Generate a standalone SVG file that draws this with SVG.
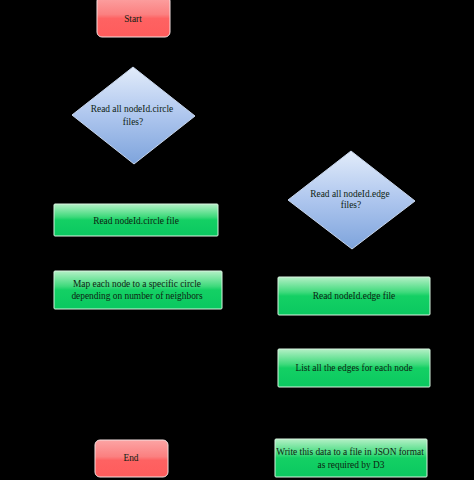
<svg xmlns="http://www.w3.org/2000/svg" width="474" height="480" viewBox="0 0 474 480">
<defs>
<linearGradient id="gRed" x1="0" y1="0" x2="0" y2="1">
<stop offset="0" stop-color="#fca4a4"/>
<stop offset="0.45" stop-color="#fb8080"/>
<stop offset="0.55" stop-color="#fe6262"/>
<stop offset="1" stop-color="#ff5c5c"/>
</linearGradient>
<linearGradient id="gGreen" x1="0" y1="0" x2="0" y2="1">
<stop offset="0" stop-color="#b4f0c6"/>
<stop offset="0.4" stop-color="#3fda7c"/>
<stop offset="0.5" stop-color="#14d064"/>
<stop offset="1" stop-color="#0ac860"/>
</linearGradient>
<linearGradient id="gBlue" x1="0" y1="0" x2="0" y2="1">
<stop offset="0" stop-color="#e2ecfa"/>
<stop offset="0.5" stop-color="#aec6ee"/>
<stop offset="1" stop-color="#7ea4dc"/>
</linearGradient>
<marker id="arr" viewBox="0 0 10 10" refX="9" refY="5" markerWidth="6" markerHeight="6" orient="auto">
<path d="M0,0 L10,5 L0,10 z" fill="#000"/>
</marker>
</defs>
<style>
.t{font-family:"Liberation Serif","Times New Roman",serif;font-size:9.4px;fill:#0e1e12;text-anchor:middle}
.term{fill:url(#gRed);stroke:#f4e0e0;stroke-width:1}
.proc{fill:url(#gGreen);stroke:#d8f4e0;stroke-width:1}
.dec{fill:url(#gBlue);stroke:#c8d6ec;stroke-width:1}
.conn{fill:none;stroke:#000;stroke-width:1;marker-end:url(#arr)}
</style>
<rect width="474" height="480" fill="#000"/>
<g id="connectors">
<path class="conn" d="M133,37 L133,66"/>
<path class="conn" d="M133,164 L135,203"/>
<path class="conn" d="M136,236 L136,270"/>
<path class="conn" d="M130,309 L130,330 L30,330 L30,115 L71,115"/>
<path class="conn" d="M195,117 L351,117 L351,150"/>
<path class="conn" d="M352,249 L353,276"/>
<path class="conn" d="M353,315 L353,348"/>
<path class="conn" d="M353,387 L353,410 L450,410 L450,200 L416,200"/>
<path class="conn" d="M288,200 L250,200 L250,420 L351,420 L351,438"/>
<path class="conn" d="M275,458 L169,458"/>
</g>
<g id="start">
<rect class="term" x="97" y="-4" width="73" height="41" rx="5"/>
<text class="t" x="133" y="22">Start</text>
</g>
<g id="decision-circle">
<polygon class="dec" points="133,67 195,116 134,164 72,115"/>
<text class="t" x="132" y="112">Read all nodeId.circle</text>
<text class="t" x="133" y="124.5">files?</text>
</g>
<g id="read-circle">
<rect class="proc" x="54" y="204" width="164" height="32" rx="1"/>
<text class="t" x="136" y="224">Read nodeId.circle file</text>
</g>
<g id="map-node">
<rect class="proc" x="54" y="271" width="168" height="38" rx="1"/>
<text class="t" x="137" y="287">Map each node to a  specific circle</text>
<text class="t" x="137" y="299">depending on number of neighbors</text>
</g>
<g id="end">
<rect class="term" x="95" y="440" width="73" height="37" rx="5"/>
<text class="t" x="131" y="461">End</text>
</g>
<g id="decision-edge">
<polygon class="dec" points="351,151 415,201 352,249 288,200"/>
<text class="t" x="350" y="196.5">Read all nodeId.edge</text>
<text class="t" x="351" y="207.5">files?</text>
</g>
<g id="read-edge">
<rect class="proc" x="278" y="277" width="152" height="38" rx="1"/>
<text class="t" x="354" y="299">Read nodeId.edge file</text>
</g>
<g id="list-edges">
<rect class="proc" x="278" y="349" width="152" height="38" rx="1"/>
<text class="t" x="354" y="371">List all the edges for each node</text>
</g>
<g id="write-json">
<rect class="proc" x="275" y="439" width="152" height="38" rx="1"/>
<text class="t" x="350" y="455">Write this data to a file in JSON format</text>
<text class="t" x="351" y="468">as required by D3</text>
</g>
</svg>
